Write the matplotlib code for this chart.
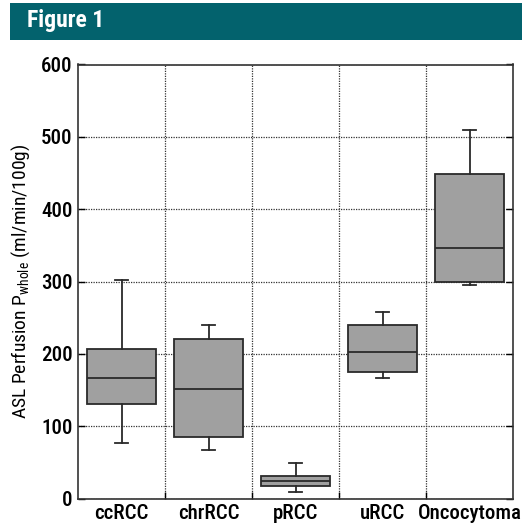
import matplotlib
matplotlib.use("Agg")
import matplotlib.pyplot as plt
from matplotlib.patches import Rectangle

categories = ["ccRCC", "chrRCC", "pRCC", "uRCC", "Oncocytoma"]
whisker_low = [77, 67, 9.5, 167, 295]
q1 = [131, 85, 17, 174.5, 299]
median = [167, 151, 24, 203, 347]
q3 = [206, 220, 31, 240, 449]
whisker_high = [302, 240, 49.5, 258, 509]
yticks = [0, 100, 200, 300, 400, 500, 600]

font = ["Roboto Condensed", "DejaVu Sans"]
plt.rcParams['font.family'] = font
plt.rcParams['mathtext.fontset'] = 'custom'
plt.rcParams['mathtext.rm'] = 'Roboto Condensed'

fig = plt.figure(figsize=(5.22, 5.25), dpi=100)
# banner
fig.patches.append(Rectangle((10/522, 1 - 40/525), 512/522, 37/525,
                             transform=fig.transFigure, facecolor="#03626D",
                             edgecolor="none", zorder=0))
fig.text(27/522, 1 - 21/525, "Figure 1", color="white", fontsize=17,
         fontweight="bold", va="center", ha="left")

ax = fig.add_axes([78/522, 1 - 498.5/525, 435/522, (498.5 - 64.5)/525])

stats = []
for i, c in enumerate(categories):
    stats.append(dict(label=c, whislo=whisker_low[i], q1=q1[i], med=median[i],
                      q3=q3[i], whishi=whisker_high[i], fliers=[]))
pos = list(range(1, len(categories) + 1))
ax.bxp(stats, positions=pos, widths=0.8, patch_artist=True, showfliers=False,
       boxprops=dict(facecolor="#a0a0a0", edgecolor="#2a2a2a", linewidth=1.3),
       medianprops=dict(color="#2a2a2a", linewidth=1.3),
       whiskerprops=dict(color="#2a2a2a", linewidth=1.3),
       capprops=dict(color="#2a2a2a", linewidth=1.3),
       capwidths=0.16, zorder=3)

ax.set_xlim(0.5, len(categories) + 0.5)
ax.set_ylim(0, 600)
ax.set_yticks(yticks)
ax.set_yticklabels([str(v) for v in yticks], fontsize=15, fontweight="medium")
ax.set_xticks([p + 0.5 for p in pos[:-1]])
ax.set_xticklabels([])
ax.set_xticks(pos, minor=True)
ax.set_xticklabels(categories, minor=True, fontsize=15, fontweight="medium")
ax.tick_params(axis="x", which="minor", length=0, pad=4)
ax.tick_params(axis="x", which="major", direction="in", length=5, width=1)
ax.tick_params(axis="y", direction="in", length=5, width=1, right=True, pad=4)
ax.grid(True, which="major", linestyle=(0, (1, 1)), color="#333333", linewidth=0.9)
ax.set_axisbelow(True)
for s in ax.spines.values():
    s.set_linewidth(1.2)
    s.set_color("#333333")
ax.set_ylabel(r"ASL Perfusion P$_{\mathrm{whole}}$ (ml/min/100g)", fontsize=14, labelpad=6)

fig.savefig("out.png", dpi=100)
